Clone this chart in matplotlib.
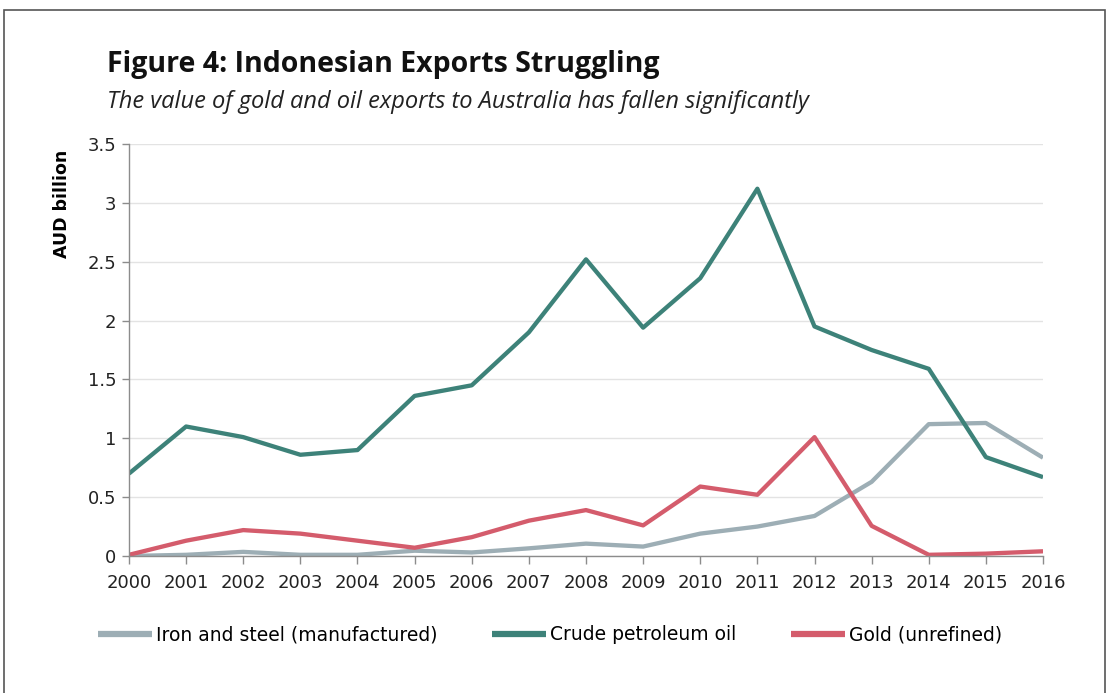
import matplotlib
matplotlib.use("Agg")
import matplotlib.pyplot as plt
from matplotlib.patches import Rectangle

years = list(range(2000, 2017))
iron_steel = [0.0, 0.01, 0.035, 0.01, 0.01, 0.045, 0.03, 0.065, 0.105, 0.08,
              0.19, 0.25, 0.34, 0.63, 1.12, 1.13, 0.835]
crude_oil = [0.70, 1.10, 1.01, 0.86, 0.90, 1.36, 1.45, 1.90, 2.52, 1.94,
             2.36, 3.12, 1.95, 1.75, 1.59, 0.84, 0.67]
gold = [0.01, 0.13, 0.22, 0.19, 0.13, 0.07, 0.16, 0.30, 0.39, 0.26,
        0.59, 0.52, 1.01, 0.256, 0.01, 0.02, 0.04]
series_labels = ["Iron and steel (manufactured)", "Crude petroleum oil", "Gold (unrefined)"]
y_ticks = [0, 0.5, 1, 1.5, 2, 2.5, 3, 3.5]
y_tick_labels = ["0", "0.5", "1", "1.5", "2", "2.5", "3", "3.5"]

colors = ["#9DAEB5", "#3D8279", "#D45C6C"]

fig = plt.figure(figsize=(11.09, 6.93), dpi=100)
fig.patches.append(Rectangle((0.004, -0.1), 0.992, 1.085, transform=fig.transFigure,
                             fill=False, edgecolor="#555555", linewidth=1.2))

ax = fig.add_axes([0.1163, 0.1977, 0.8242, 0.5945])
for vals, c, lab in zip([iron_steel, crude_oil, gold], colors, series_labels):
    ax.plot(years, vals, color=c, linewidth=3.1, label=lab, solid_capstyle="butt")

ax.set_xlim(2000, 2016)
ax.set_ylim(0, 3.5)
ax.set_xticks(years)
ax.set_xticklabels([str(y) for y in years], fontsize=13, fontfamily="DejaVu Sans")
ax.set_yticks(y_ticks)
ax.set_yticklabels(y_tick_labels, fontsize=13, fontfamily="DejaVu Sans")
ax.grid(axis="y", color="#E3E3E3", linewidth=1.0)
ax.set_axisbelow(True)
for s in ["top", "right"]:
    ax.spines[s].set_visible(False)
for s in ["left", "bottom"]:
    ax.spines[s].set_color("#8C8C8C")
    ax.spines[s].set_linewidth(1.0)
ax.tick_params(axis="both", colors="#8C8C8C", labelcolor="#222222", length=6, width=1.0, direction="out")
ax.tick_params(axis="x", pad=7)
ax.tick_params(axis="y", length=5, pad=4)

ax.set_ylabel("AUD billion", fontsize=12.5, fontweight="bold", fontfamily="DejaVu Sans", loc="top")
ax.yaxis.set_label_coords(-0.063, 0.987)

fig.text(0.0965, 0.907, "Figure 4: Indonesian Exports Struggling", fontsize=20.5, fontweight="bold",
         fontfamily="Open Sans", color="#111111", va="center", ha="left")
fig.text(0.0965, 0.853, "The value of gold and oil exports to Australia has fallen significantly",
         fontsize=17, style="italic", fontfamily="Open Sans", color="#222222", va="center", ha="left")

leg = fig.legend(loc="center", bbox_to_anchor=(0.496, 0.084), ncol=3, frameon=False,
                 handlelength=2.9, handletextpad=0.2, columnspacing=2.9,
                 prop={"family": "DejaVu Sans", "size": 13.5})
for line in leg.get_lines():
    line.set_linewidth(4.5)

fig.savefig("out.png", dpi=100)
